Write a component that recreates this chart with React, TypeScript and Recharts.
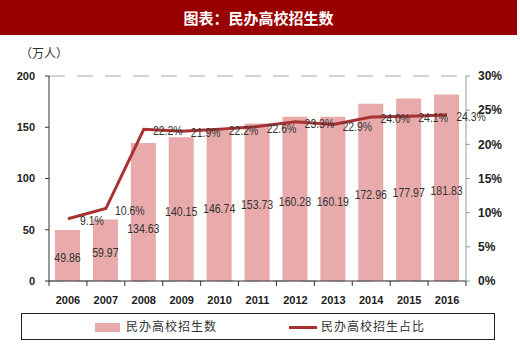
import React from 'react';
import {
  ComposedChart,
  Bar,
  Line,
  XAxis,
  YAxis,
  CartesianGrid,
  LabelList,
} from 'recharts';

const years = ['2006', '2007', '2008', '2009', '2010', '2011', '2012', '2013', '2014', '2015', '2016'];
const enrollment = [49.86, 59.97, 134.63, 140.15, 146.74, 153.73, 160.28, 160.19, 172.96, 177.97, 181.83];
const share = [9.1, 10.6, 22.2, 21.9, 22.2, 22.6, 23.3, 22.9, 24.0, 24.1, 24.3];
const leftTicks = [0, 50, 100, 150, 200];
const rightTicks = [0, 5, 10, 15, 20, 25, 30];

const BAR_COLOR = '#E8AAAA';
const LINE_COLOR = '#A83232';
const STEP = 417 / 11;

const data = years.map((year, i) => ({
  year,
  enrollment: enrollment[i],
  share: share[i],
}));

// narrow (Arial Narrow-like) label width
const narrowWidth = (s: string, fs: number) =>
  s.split('').reduce((w, c) => w + (c === '.' ? 0.23 : c === '%' ? 0.7 : 0.45), 0) * fs;

const NarrowText = ({ x, y, text }: { x: number; y: number; text: string }) => (
  <text
    x={x}
    y={y}
    textAnchor="middle"
    fontSize={13}
    fontFamily="Liberation Sans, Arial, sans-serif"
    fill="#333"
    textLength={narrowWidth(text, 13)}
    lengthAdjust="spacingAndGlyphs"
  >
    {text}
  </text>
);

const BarValueLabel = (props: any) => {
  const { x, y, width, height, value, index } = props;
  // 2008 label sits lower to clear the percent label
  const extra = index === 2 ? 16 : 2;
  return <NarrowText x={x + width / 2} y={y + height / 2 + 5 + extra} text={Number(value).toFixed(2)} />;
};

const ShareLabel = (props: any) => {
  const { x, y, value } = props;
  return <NarrowText x={x + 24} y={y + 6} text={`${Number(value).toFixed(1)}%`} />;
};

const YearTick = (props: any) => {
  const { x, y, payload, index } = props;
  return (
    <g>
      <line x1={x - STEP / 2} x2={x - STEP / 2} y1={y} y2={y + 5} stroke="#333" />
      {index === years.length - 1 && (
        <line x1={x + STEP / 2} x2={x + STEP / 2} y1={y} y2={y + 5} stroke="#333" />
      )}
      <text
        x={x}
        y={y + 23}
        textAnchor="middle"
        fontSize={11}
        fontWeight="bold"
        fontFamily="Liberation Sans, Arial, sans-serif"
        fill="#222"
      >
        {payload.value}
      </text>
    </g>
  );
};

const axisTick = {
  fontSize: 11,
  fontWeight: 'bold' as const,
  fontFamily: 'Liberation Sans, Arial, sans-serif',
  fill: '#222',
};

export default function App() {
  return (
    <div
      style={{
        position: 'absolute',
        left: 0,
        top: 0,
        width: 520,
        height: 353,
        background: '#fff',
        overflow: 'hidden',
      }}
    >
      <div
        style={{
          position: 'absolute',
          left: 0,
          top: 0,
          width: 517,
          height: 35,
          background: '#990000',
          color: '#fff',
          fontFamily: 'Noto Sans CJK SC, sans-serif',
          fontWeight: 'bold',
          fontSize: 15,
          lineHeight: '35px',
          textAlign: 'center',
        }}
      >
        图表：民办高校招生数
      </div>
      <div
        style={{
          position: 'absolute',
          left: 20,
          top: 44,
          fontFamily: 'Noto Sans CJK SC, sans-serif',
          fontSize: 12,
          color: '#333',
        }}
      >
        （万人）
      </div>
      <ComposedChart
        width={520}
        height={353}
        data={data}
        margin={{ top: 76, right: 0, left: 0, bottom: 52 }}
      >
        <CartesianGrid vertical={false} stroke="#aaa" strokeDasharray="16 12" />
        <XAxis
          dataKey="year"
          height={20}
          tickSize={0}
          tickMargin={0}
          tickLine={false}
          axisLine={{ stroke: '#333', strokeWidth: 1.2 }}
          tick={<YearTick />}
          interval={0}
        />
        <YAxis
          yAxisId="left"
          width={49}
          domain={[0, 200]}
          ticks={leftTicks}
          tick={axisTick}
          tickSize={4}
          tickMargin={10}
          axisLine={{ stroke: '#333' }}
          tickLine={{ stroke: '#333' }}
        />
        <YAxis
          yAxisId="right"
          orientation="right"
          width={54}
          domain={[0, 30]}
          ticks={rightTicks}
          tickFormatter={(v: number) => `${v}%`}
          tick={{ ...axisTick, fontSize: 12 }}
          tickSize={4}
          tickMargin={8}
          axisLine={{ stroke: '#999' }}
          tickLine={{ stroke: '#999' }}
        />
        <Bar yAxisId="left" dataKey="enrollment" fill={BAR_COLOR} barSize={25} isAnimationActive={false}>
          <LabelList dataKey="enrollment" content={<BarValueLabel />} />
        </Bar>
        <Line
          yAxisId="right"
          type="linear"
          dataKey="share"
          stroke={LINE_COLOR}
          strokeWidth={3}
          dot={false}
          isAnimationActive={false}
        >
          <LabelList dataKey="share" content={<ShareLabel />} />
        </Line>
      </ComposedChart>
      <div
        style={{
          position: 'absolute',
          left: 21,
          top: 313,
          width: 472,
          height: 25,
          border: '1px solid #222',
          fontFamily: 'Noto Sans CJK SC, sans-serif',
          fontSize: 12,
          color: '#333',
          letterSpacing: 1,
        }}
      >
        <div style={{ position: 'absolute', left: 73, top: 9, width: 25, height: 9, background: BAR_COLOR }} />
        <div style={{ position: 'absolute', left: 104, top: 3, lineHeight: '18px' }}>民办高校招生数</div>
        <div style={{ position: 'absolute', left: 267, top: 12, width: 28, height: 3, background: LINE_COLOR }} />
        <div style={{ position: 'absolute', left: 299, top: 3, lineHeight: '18px' }}>民办高校招生占比</div>
      </div>
    </div>
  );
}
